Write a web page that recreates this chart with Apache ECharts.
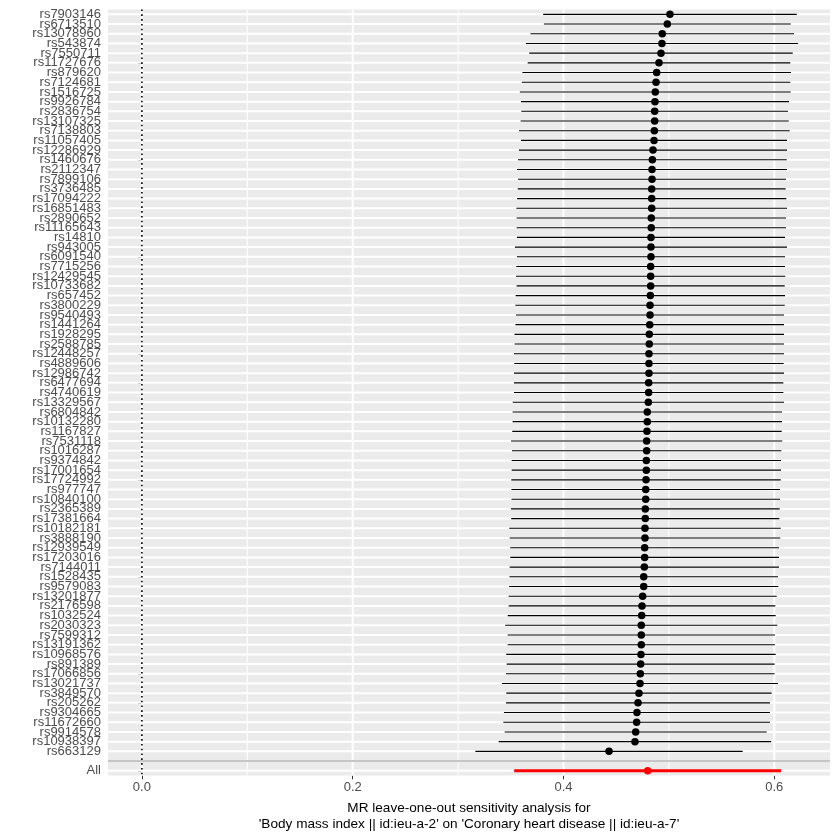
<!DOCTYPE html>
<html>
<head>
<meta charset="utf-8">
<script src="https://cdn.jsdelivr.net/npm/echarts@6/dist/echarts.min.js"></script>
<style>
html,body{margin:0;padding:0;background:#fff;}
#chart{width:840px;height:840px;}
</style>
</head>
<body>
<div id="chart"></div>
<script>
const snps = ["rs7903146","rs6713510","rs13078960","rs543874","rs7550711","rs11727676","rs879620","rs7124681","rs1516725","rs9926784",
"rs2836754","rs13107325","rs7138803","rs11057405","rs12286929","rs1460676","rs2112347","rs7899106","rs3736485","rs17094222",
"rs16851483","rs2890652","rs11165643","rs14810","rs943005","rs6091540","rs7715256","rs12429545","rs10733682","rs657452",
"rs3800229","rs9540493","rs1441264","rs1928295","rs2588785","rs12448257","rs4889606","rs12986742","rs6477694","rs4740619",
"rs13329567","rs6804842","rs10132280","rs1167827","rs7531118","rs1016287","rs9374842","rs17001654","rs17724992","rs977747",
"rs10840100","rs2365389","rs17381664","rs10182181","rs3888190","rs12939549","rs17203016","rs7144011","rs1528435","rs9579083",
"rs13201877","rs2176598","rs1032524","rs2030323","rs7599312","rs13191362","rs10968576","rs891389","rs17066856","rs13021737",
"rs3849570","rs205262","rs9304665","rs11672660","rs9914578","rs10938397","rs663129","","All"];

const beta = [0.5010,0.4985,0.4937,0.4934,0.4925,0.4906,0.4884,0.4878,0.4871,0.4868,
0.4865,0.4865,0.4862,0.4859,0.4849,0.4843,0.4840,0.4840,0.4837,0.4837,
0.4837,0.4833,0.4833,0.4830,0.4830,0.4830,0.4827,0.4827,0.4827,0.4824,
0.4821,0.4821,0.4818,0.4814,0.4814,0.4811,0.4811,0.4811,0.4808,0.4808,
0.4805,0.4795,0.4795,0.4792,0.4789,0.4789,0.4786,0.4786,0.4783,0.4780,
0.4780,0.4776,0.4776,0.4773,0.4773,0.4770,0.4770,0.4767,0.4761,0.4761,
0.4751,0.4745,0.4742,0.4738,0.4738,0.4738,0.4735,0.4732,0.4729,0.4726,
0.4716,0.4707,0.4697,0.4694,0.4685,0.4678,0.4432,null,0.4799];

const lower = [0.3807,0.3814,0.3687,0.3643,0.3675,0.3660,0.3610,0.3604,0.3586,0.3596,
0.3600,0.3593,0.3578,0.3597,0.3577,0.3568,0.3559,0.3569,0.3566,0.3560,
0.3553,0.3555,0.3555,0.3558,0.3539,0.3558,0.3552,0.3549,0.3555,0.3546,
0.3543,0.3550,0.3544,0.3536,0.3536,0.3530,0.3533,0.3530,0.3530,0.3530,
0.3518,0.3517,0.3517,0.3514,0.3502,0.3511,0.3508,0.3508,0.3505,0.3506,
0.3506,0.3501,0.3504,0.3485,0.3489,0.3495,0.3495,0.3489,0.3487,0.3484,
0.3479,0.3480,0.3471,0.3447,0.3470,0.3470,0.3457,0.3461,0.3455,0.3417,
0.3457,0.3455,0.3435,0.3429,0.3442,0.3385,0.3164,null,0.3532];

const upper = [0.6213,0.6156,0.6187,0.6225,0.6175,0.6152,0.6158,0.6152,0.6156,0.6140,
0.6130,0.6137,0.6146,0.6121,0.6121,0.6118,0.6121,0.6111,0.6108,0.6114,
0.6121,0.6111,0.6111,0.6102,0.6121,0.6102,0.6102,0.6105,0.6099,0.6102,
0.6099,0.6092,0.6092,0.6092,0.6092,0.6092,0.6089,0.6092,0.6086,0.6086,
0.6092,0.6073,0.6073,0.6070,0.6076,0.6067,0.6064,0.6064,0.6061,0.6054,
0.6054,0.6051,0.6048,0.6061,0.6057,0.6045,0.6045,0.6045,0.6035,0.6038,
0.6023,0.6010,0.6013,0.6029,0.6006,0.6006,0.6013,0.6003,0.6003,0.6035,
0.5975,0.5959,0.5959,0.5959,0.5928,0.5971,0.5700,null,0.6064];

const xTicks = [0, 0.2, 0.4, 0.6];
const xTickLabels = ["0.0", "0.2", "0.4", "0.6"];
const xMinor = [0.1, 0.3, 0.5];
const xTitle = "MR leave-one-out sensitivity analysis for\n'Body mass index || id:ieu-a-2' on 'Coronary heart disease || id:ieu-a-7'";

const allIdx = snps.indexOf("All");
const blankIdx = snps.indexOf("");

const barData = [], pointData = [], redBar = [], redPoint = [];
snps.forEach((s, i) => {
  if (beta[i] == null) return;
  if (i === allIdx) {
    redBar.push([lower[i], upper[i], i]);
    redPoint.push([beta[i], i]);
  } else {
    barData.push([lower[i], upper[i], i]);
    pointData.push([beta[i], i]);
  }
});

const FONT = "Liberation Sans, Arial, Helvetica, sans-serif";
const chart = echarts.init(document.getElementById('chart'), null, {renderer: 'canvas'});

function hLineItem(color, width) {
  return function (params, api) {
    const cs = params.coordSys;
    const y = api.coord([0, api.value(1)])[1];
    return {type: 'line', shape: {x1: cs.x, y1: y, x2: cs.x + cs.width, y2: y},
      style: {stroke: color, lineWidth: width}};
  };
}
function vLineItem(color, width, dash) {
  return function (params, api) {
    const cs = params.coordSys;
    const x = api.coord([api.value(0), 0])[0];
    return {type: 'line', shape: {x1: x, y1: cs.y, x2: x, y2: cs.y + cs.height},
      style: {stroke: color, lineWidth: width, lineDash: dash || null}};
  };
}
function barItem(color, width) {
  return function (params, api) {
    const p1 = api.coord([api.value(0), api.value(2)]);
    const p2 = api.coord([api.value(1), api.value(2)]);
    return {type: 'line', shape: {x1: p1[0], y1: p1[1], x2: p2[0], y2: p2[1]},
      style: {stroke: color, lineWidth: width}};
  };
}

const option = {
  animation: false,
  backgroundColor: '#ffffff',
  grid: {left: 108, right: 10, top: 9.5, height: 766.1, show: true,
    backgroundColor: '#EBEBEB', borderWidth: 0},
  xAxis: {
    type: 'value', min: -0.03216, max: 0.65285,
    axisLine: {show: false},
    splitLine: {show: false},
    axisTick: {show: true, customValues: xTicks, length: 3.7, lineStyle: {color: '#333333', width: 1}},
    axisLabel: {customValues: xTicks, color: '#4D4D4D', fontSize: 13, fontFamily: FONT, margin: 5,
      formatter: v => { const k = xTicks.findIndex(t => Math.abs(t - v) < 1e-9); return k >= 0 ? xTickLabels[k] : ''; }},
    name: xTitle, nameLocation: 'middle', nameGap: 25,
    nameTextStyle: {color: '#000000', fontSize: 13.6, fontFamily: FONT, lineHeight: 15.5, align: 'center'}
  },
  yAxis: {
    type: 'category', data: snps, inverse: true, boundaryGap: true,
    axisLine: {show: false},
    splitLine: {show: false},
    axisTick: {show: true, alignWithLabel: true, length: 3.7, lineStyle: {color: '#333333', width: 1}},
    axisLabel: {interval: 0, color: '#4D4D4D', fontSize: 13, fontFamily: FONT, margin: 7}
  },
  series: [
    {type: 'custom', name: 'hgrid', silent: true, z: 1, encode: {x: 0, y: 1},
      data: snps.map((s, i) => [0, i]), renderItem: hLineItem('#FFFFFF', 2)},
    {type: 'custom', name: 'vgridMinor', silent: true, z: 1, encode: {x: 0, y: 1},
      data: xMinor.map(v => [v, 0]), renderItem: vLineItem('#FFFFFF', 1)},
    {type: 'custom', name: 'vgridMajor', silent: true, z: 1, encode: {x: 0, y: 1},
      data: xTicks.map(v => [v, 0]), renderItem: vLineItem('#FFFFFF', 2)},
    {type: 'custom', name: 'zero', silent: true, z: 2, encode: {x: 0, y: 1},
      data: [[0, 0]], renderItem: vLineItem('#000000', 1.6, [1.6, 3.2])},
    {type: 'custom', name: 'sep', silent: true, z: 2, encode: {x: 0, y: 1},
      data: [[0, blankIdx]], renderItem: hLineItem('#B3B3B3', 1.6)},
    {type: 'custom', name: 'ci', silent: true, z: 3, encode: {x: [0, 1], y: 2},
      data: barData, renderItem: barItem('#000000', 1.1)},
    {type: 'custom', name: 'ciAll', silent: true, z: 3, encode: {x: [0, 1], y: 2},
      data: redBar, renderItem: barItem('#FF0000', 3.2)},
    {type: 'scatter', name: 'b', silent: true, z: 4, symbol: 'circle', symbolSize: 7.5,
      itemStyle: {color: '#000000', opacity: 1}, data: pointData},
    {type: 'scatter', name: 'bAll', silent: true, z: 4, symbol: 'circle', symbolSize: 7.5,
      itemStyle: {color: '#FF0000', opacity: 1}, data: redPoint}
  ]
};
chart.setOption(option);
</script>
</body>
</html>
